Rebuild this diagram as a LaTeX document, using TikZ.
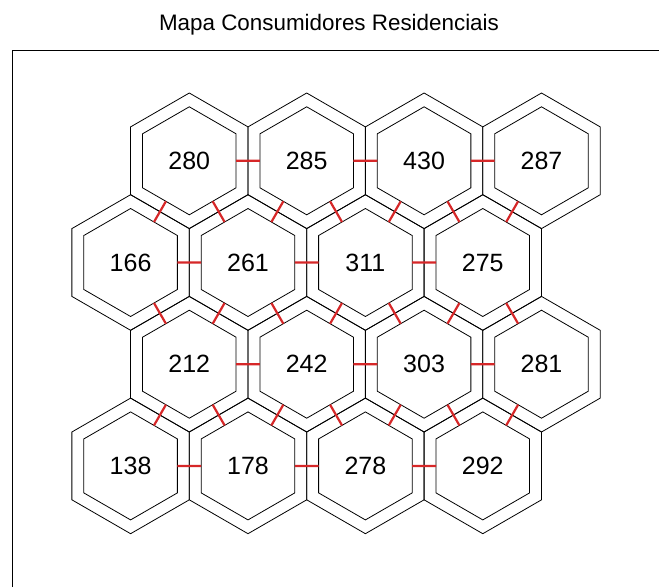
\documentclass[tikz,border=0pt]{standalone}
\usepackage{fontspec}
\setmainfont{Liberation Sans}
\usetikzlibrary{shapes.geometric}
\definecolor{linkred}{HTML}{D62728}

\tikzset{
  hexout/.style={draw, regular polygon, regular polygon sides=6,
    shape border rotate=30, minimum size=135.6pt, inner sep=0pt,
    outer sep=0pt, line width=0.8pt},
  hexin/.style={hexout, minimum size=108pt,
    font=\fontsize{25}{30}\selectfont},
  link/.style={draw=linkred, line width=2.2pt},
  frame/.style={draw, line width=0.8pt}
}

\begin{document}
\begin{tikzpicture}[x=1pt, y=-1pt]
  \useasboundingbox (0,0) rectangle (659,587);
  \node[anchor=base, font=\fontsize{22.4}{27}\selectfont] (title) at (329,30)
    {Mapa Consumidores Residenciais};
  \draw[frame] (12,587) -- (12,50.7) -- (659,50.7);

  % cells, row by row
  \foreach \r/\dx/\vals in {1/58.7/{280,285,430,287}, 2/0/{166,261,311,275},
                            3/58.7/{212,242,303,281}, 4/0/{138,178,278,292}}
    \foreach \v [count=\k] in \vals {
      \node[hexout] (o-\r-\k) at ({13.2+\dx+117.4*\k}, {59.1+101.7*\r}) {};
      \node[hexin] (c-\r-\k) at (o-\r-\k) {\v};
    }

  % links between neighbours
  \foreach \r in {1,...,4}
    \foreach \k/\n in {1/2,2/3,3/4}
      \draw[link] (c-\r-\k) -- (c-\r-\n);
  \foreach \r/\s in {1/2,2/3,3/4}
    \foreach \k in {1,...,4}
      \draw[link] (c-\r-\k) -- (c-\s-\k);
  \foreach \r/\s in {1/2,3/4}
    \foreach \k/\n in {1/2,2/3,3/4}
      \draw[link] (c-\r-\k) -- (c-\s-\n);
  \foreach \k/\n in {1/2,2/3,3/4}
    \draw[link] (c-2-\n) -- (c-3-\k);
\end{tikzpicture}
\end{document}
